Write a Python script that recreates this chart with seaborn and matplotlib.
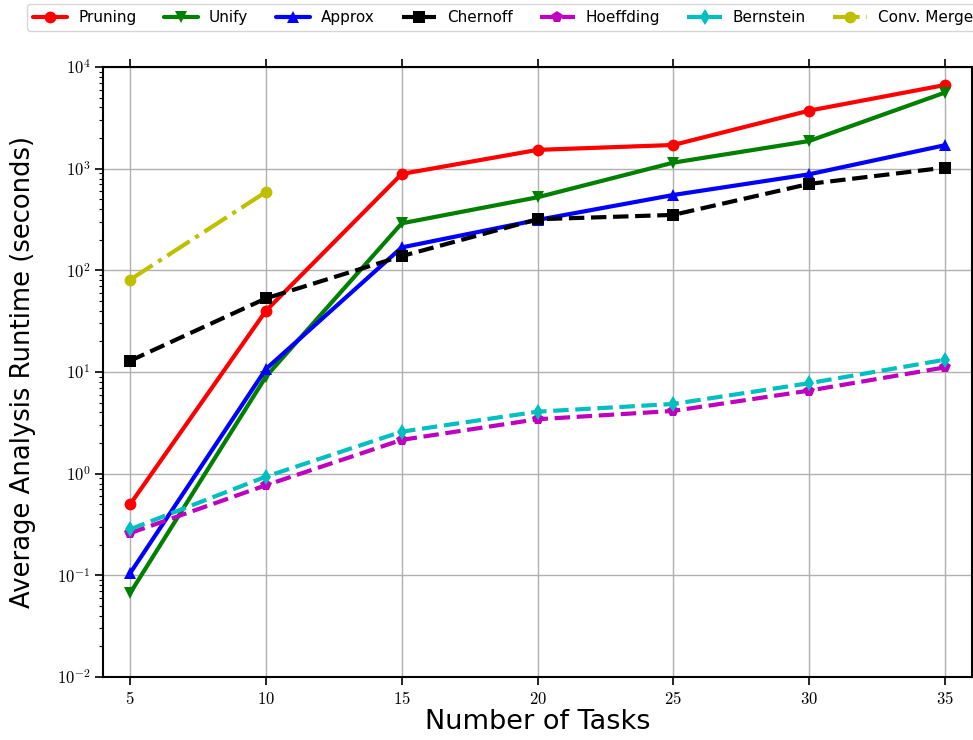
import numpy as np
import pandas as pd
import matplotlib
matplotlib.use("Agg")
import matplotlib.pyplot as plt
import seaborn as sns
from matplotlib.ticker import FixedLocator, FuncFormatter, LogLocator, NullFormatter

tasks = [5, 10, 15, 20, 25, 30, 35]
pruning = [0.50, 40, 887, 1530, 1710, 3720, 6650]
unify = [0.067, 9.0, 290, 523, 1146, 1870, 5600]
approx = [0.105, 10.7, 168, 313, 551, 880, 1700]
chernoff = [12.9, 53, 138, 318, 351, 708, 1023]
hoeffding = [0.26, 0.77, 2.15, 3.43, 4.14, 6.56, 11.1]
bernstein = [0.284, 0.935, 2.59, 4.07, 4.85, 7.76, 13.2]
conv_tasks = [5, 10]
conv_merge = [81, 590]

series = [
    ("Pruning", tasks, pruning, "r", "o", "-"),
    ("Unify", tasks, unify, "g", "v", "-"),
    ("Approx", tasks, approx, "b", "^", "-"),
    ("Chernoff", tasks, chernoff, "k", "s", "--"),
    ("Hoeffding", tasks, hoeffding, "m", "p", "--"),
    ("Bernstein", tasks, bernstein, "c", "d", "--"),
    ("Conv. Merge", conv_tasks, conv_merge, "y", "o", "-."),
]

sns.set_style("ticks")
plt.rcParams["font.family"] = ["DejaVu Sans"]
plt.rcParams["mathtext.fontset"] = "cm"
for k in ["text.color", "axes.labelcolor", "xtick.color", "ytick.color", "axes.edgecolor"]:
    plt.rcParams[k] = "black"

fig = plt.figure(figsize=(9.73, 7.40), dpi=100)
ax = fig.add_axes([103 / 973, 1 - 677 / 740, (972 - 103) / 973, (677 - 67) / 740])

for name, xs, ys, c, m, ls in series:
    df = pd.DataFrame({"x": xs, "y": ys})
    sns.lineplot(data=df, x="x", y="y", ax=ax, color=c, marker=m, linestyle=ls,
                 linewidth=3, markersize=8.5, markeredgewidth=0, label=name,
                 legend=False)

ax.set_yscale("log")
ax.set_ylim(1e-2, 1e4)
ax.set_xlim(4, 36)
ax.xaxis.set_major_locator(FixedLocator(tasks))
ax.xaxis.set_major_formatter(FuncFormatter(lambda v, p: r"$%d$" % v))
ax.yaxis.set_major_locator(LogLocator(base=10, numticks=10))
ax.yaxis.set_major_formatter(FuncFormatter(lambda v, p: r"$10^{%d}$" % round(np.log10(v))))
ax.yaxis.set_minor_locator(LogLocator(base=10, subs=np.arange(2, 10), numticks=20))
ax.yaxis.set_minor_formatter(NullFormatter())
ax.tick_params(axis="both", which="major", labelsize=12, direction="out", length=5.5, width=1.2)
ax.tick_params(axis="y", which="minor", direction="out", length=3, width=0.8)
ax.tick_params(axis="x", top=True)
ax.grid(True, which="major", color="#b0b0b0", linewidth=1)
for s in ax.spines.values():
    s.set_linewidth(1.5)

ax.set_xlabel("Number of Tasks", fontsize=19.5, labelpad=1)
ax.set_ylabel("Average Analysis Runtime (seconds)", fontsize=18.6)
ax.yaxis.set_label_coords(-0.077, 0.5)

handles, labels = ax.get_legend_handles_labels()
fig.legend(handles, labels, loc="upper left", bbox_to_anchor=(27 / 973, 1 - 4 / 740),
           ncol=7, fontsize=11, handlelength=2.25, columnspacing=1.8, handletextpad=0.7,
           numpoints=1, frameon=True, fancybox=True, edgecolor="#cccccc", borderaxespad=0)

fig.savefig("out.png", dpi=100)
